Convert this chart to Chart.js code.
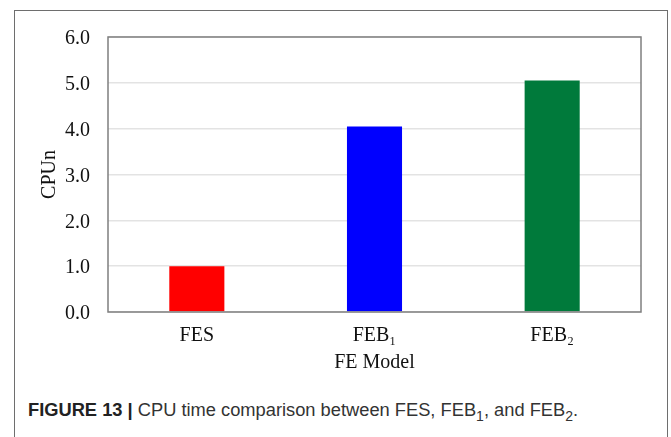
<!DOCTYPE html>
<html>
<head>
<meta charset="utf-8">
<script src="https://cdn.jsdelivr.net/npm/chart.js@4.4.0/dist/chart.umd.min.js"></script>
<style>
  html, body { margin: 0; padding: 0; background: #fff; width: 671px; height: 437px; overflow: hidden; }
  #frame { position: absolute; left: 14px; top: 10px; width: 654px; height: 440px; border: 1px solid #6e6e6e; box-sizing: border-box; }
  #wrap { position: absolute; left: 0; top: 0; width: 671px; height: 380px; }
  #caption { position: absolute; left: 28px; top: 399px; font-family: "Liberation Sans", Arial, sans-serif; font-size: 18.3px; color: #333; white-space: nowrap; }
  #caption b { color: #222; }
  sub { font-size: 14px; vertical-align: -5px; line-height: 0; }
</style>
</head>
<body>
<div id="frame"></div>
<div id="wrap"><canvas id="c" width="671" height="380"></canvas></div>
<div id="caption"><b>FIGURE 13 |</b> CPU time comparison between FES, FEB<sub>1</sub>, and FEB<sub>2</sub>.</div>
<script>
const categories = ["FES", "FEB\u2081", "FEB\u2082"];
const cpuN = [1.0, 4.05, 5.05];
const barColors = ["#ff0000", "#0000ff", "#007a3b"];
const yTickLabels = ["0.0", "1.0", "2.0", "3.0", "4.0", "5.0", "6.0"];

const plotBorder = {
  id: 'plotBorder',
  afterDatasetsDraw(chart) {
    const {ctx, chartArea: a} = chart;
    ctx.save();
    ctx.strokeStyle = '#7f7f7f';
    ctx.lineWidth = 1.5;
    ctx.strokeRect(a.left, a.top, a.right - a.left, a.bottom - a.top);
    ctx.restore();
  }
};

new Chart(document.getElementById('c'), {
  type: 'bar',
  data: {
    labels: categories,
    datasets: [{
      data: cpuN,
      backgroundColor: barColors,
      borderWidth: 0,
      barPercentage: 0.31,
      categoryPercentage: 1.0
    }]
  },
  options: {
    responsive: false,
    animation: false,
    layout: { padding: { left: 30, right: 30, top: 37, bottom: 2 } },
    plugins: { legend: { display: false }, tooltip: { enabled: false } },
    scales: {
      x: {
        grid: { display: false, drawTicks: false },
        border: { display: false },
        ticks: { color: '#111', font: { family: '"Liberation Serif", "Times New Roman", serif', size: 20 }, padding: 12 },
        title: { display: true, text: 'FE Model', color: '#111', font: { family: '"Liberation Serif", "Times New Roman", serif', size: 20 }, padding: { top: 0, bottom: 3 } },
        afterFit(s) { s.height = 66; }
      },
      y: {
        min: 0, max: 6,
        grid: { color: '#e3e3e3', lineWidth: 1.5, drawTicks: false },
        border: { display: false },
        ticks: {
          stepSize: 1,
          color: '#111',
          font: { family: '"Liberation Serif", "Times New Roman", serif', size: 20 },
          padding: 18,
          labelOffset: 2,
          callback: (v) => yTickLabels[Math.round(v)]
        },
        title: { display: true, text: 'CPUn', color: '#111', font: { family: '"Liberation Serif", "Times New Roman", serif', size: 20 }, padding: { top: 8, bottom: 0 } },
        afterFit(s) { s.width = 78; }
      }
    }
  },
  plugins: [plotBorder]
});
</script>
</body>
</html>
